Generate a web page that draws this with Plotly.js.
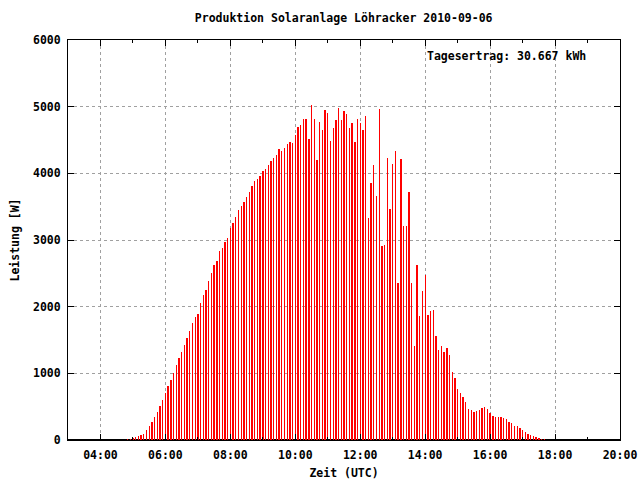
<!DOCTYPE html>
<html>
<head>
<meta charset="utf-8">
<script src="https://cdn.plot.ly/plotly-3.0.1.min.js"></script>
<style>html,body{margin:0;padding:0;background:#fff;}#chart{width:640px;height:480px;}</style>
</head>
<body>
<div id="chart"></div>
<script>
// Start time and 5-minute interval values (W)
var dayDate = "2010-09-06";
var startTime = "04:50";
var stepMinutes = 5;
var power = [
  15, 15, 30, 45, 60, 75, 90, 150, 210, 270, 345, 420, 510, 600,
  705, 810, 900, 1005, 1125, 1230, 1320, 1425, 1530, 1635, 1755, 1845,
  1890, 2055, 2175, 2255, 2390, 2510, 2630, 2690, 2840, 2885, 2975, 3035,
  3185, 3260, 3350, 3455, 3515, 3575, 3650, 3725, 3815, 3890, 3920, 3965,
  4040, 4070, 4130, 4190, 4235, 4280, 4370, 4335, 4380, 4440, 4470, 4455,
  4575, 4695, 4725, 4815, 4815, 4515, 5025, 4815, 4200, 4770, 4650, 4950,
  4905, 4485, 4680, 4800, 4980, 4800, 4935, 4890, 4680, 4755, 4470, 4815,
  4755, 4650, 4860, 3330, 3855, 4125, 3660, 4965, 2910, 2925, 4230, 3465,
  4140, 4335, 2355, 4215, 3210, 3210, 3720, 2355, 1410, 2625, 1860, 2235,
  2475, 1875, 1935, 1950, 1560, 1350, 1410, 1320, 1380, 1275, 1020, 930,
  765, 705, 645, 570, 465, 450, 420, 435, 450, 480, 495, 465,
  405, 360, 345, 345, 345, 330, 315, 270, 255, 210, 210, 180,
  150, 120, 90, 75, 60, 45, 30, 15, 15
];
var titleText = "Produktion Solaranlage Löhracker 2010-09-06";
var xTitle = "Zeit (UTC)";
var yTitle = "Leistung [W]";
var yieldText = "Tagesertrag: 30.667 kWh";
var xRange = [dayDate + " 03:00", dayDate + " 20:00"];
var yRange = [0, 6000];

function pad(n){return (n<10?"0":"")+n;}
var sp = startTime.split(":");
var startMin = parseInt(sp[0],10)*60 + parseInt(sp[1],10);
var times = power.map(function(v,i){
  var m = startMin + i*stepMinutes;
  return dayDate + " " + pad(Math.floor(m/60)) + ":" + pad(m%60);
});

var fnt = {family: "DejaVu Sans Mono, monospace", size: 11.5, color: "#000", weight: "bold"};

var trace = {
  type: "bar",
  x: times,
  y: power,
  width: 150000,
  marker: {color: "#ff0000", line: {width: 0}},
  hoverinfo: "skip"
};

var layout = {
  width: 640, height: 480,
  margin: {l: 68, r: 20, t: 40, b: 40},
  paper_bgcolor: "#fff", plot_bgcolor: "#fff",
  showlegend: false,
  font: fnt,
  title: {text: titleText, font: fnt, x: 0.537, xanchor: "center", y: 0.962, yanchor: "middle"},
  xaxis: {
    type: "date",
    range: xRange,
    dtick: 7200000,
    tick0: dayDate + " 00:00",
    tickformat: "%H:%M",
    ticks: "inside", ticklen: 6, tickcolor: "#000", tickwidth: 1,
    showline: true, linecolor: "#000", linewidth: 1, mirror: "ticks",
    showgrid: true, gridcolor: "#a0a0a0", griddash: "3px,3px", gridwidth: 1,
    minor: {dtick: 3600000, tick0: dayDate + " 00:00", ticks: "inside", ticklen: 3, tickcolor: "#000", showgrid: false},
    tickfont: fnt,
    ticklabelstandoff: 4,
    title: {text: xTitle, font: fnt, standoff: 8},
    zeroline: false,
    fixedrange: true
  },
  yaxis: {
    range: yRange,
    dtick: 1000,
    ticks: "inside", ticklen: 6, tickcolor: "#000", tickwidth: 1,
    showline: true, linecolor: "#000", linewidth: 1, mirror: "ticks",
    showgrid: true, gridcolor: "#a0a0a0", griddash: "3px,3px", gridwidth: 1,
    zeroline: true, zerolinecolor: "#000", zerolinewidth: 2,
    tickfont: fnt,
    ticklabelstandoff: 4,
    title: {text: yTitle, font: fnt, standoff: 10},
    fixedrange: true
  },
  bargap: 0,
  annotations: [{
    text: yieldText, xref: "paper", yref: "paper",
    x: 0.942, y: 0.96, xanchor: "right", yanchor: "middle",
    showarrow: false, font: fnt
  }]
};

Plotly.newPlot("chart", [trace], layout, {displayModeBar: false, staticPlot: true});
</script>
</body>
</html>
